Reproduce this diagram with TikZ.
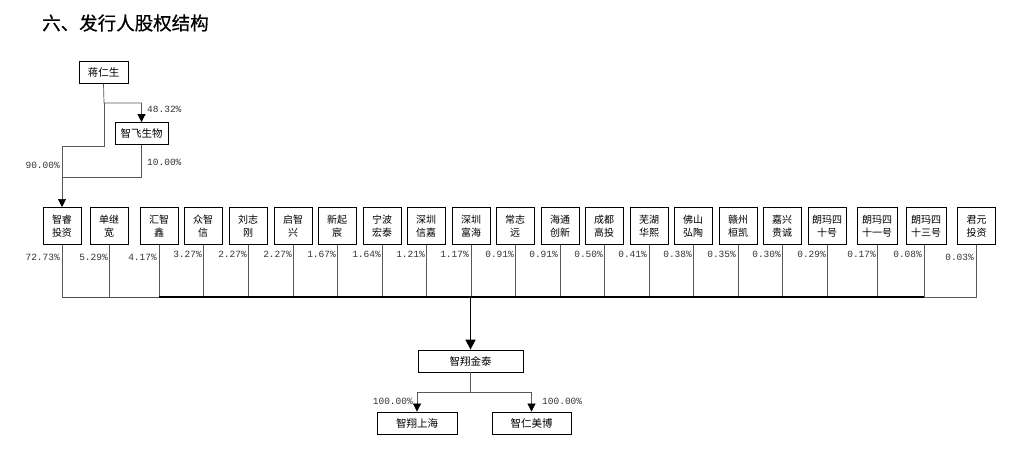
\documentclass[tikz,border=0pt]{standalone}
\usepackage{fontspec}
\usepackage{tikz}
\usetikzlibrary{arrows.meta}
\newfontfamily\cjk{Noto Sans CJK SC}
\newfontfamily\cjktitle[FakeBold=0.6]{Noto Sans CJK SC}
\newfontfamily\pctfont{Liberation Mono}

\tikzset{
  holder/.style={draw, line width=0.8pt, minimum width=38pt, minimum height=37pt, inner sep=0pt, align=center, font=\cjk\fontsize{10}{13}\selectfont},
  firm/.style={draw, line width=0.8pt, minimum height=22pt, inner sep=0pt, font=\cjk\fontsize{10.5}{12}\selectfont},
  pct/.style={anchor=east, inner sep=0pt, font=\pctfont\fontsize{9.5}{10}\selectfont, text=black!80},
  link/.style={draw=black!65, line width=0.7pt},
  arr/.style={-{Triangle[length=8pt,width=8pt,color=black]}},
}

\begin{document}
\begin{tikzpicture}[x=1pt, y=-1pt]
\useasboundingbox (0,0) rectangle (1029,452);

% Title
\node[anchor=west, inner sep=0pt, font=\cjktitle\fontsize{18.5}{19}\selectfont] (title) at (42,23) {六、发行人股权结构};

% Controlling shareholder
\node[firm, minimum width=49pt] (jrs) at (103.5,72.5) {蒋仁生};
\node[firm, minimum width=53pt] (zf) at (141.5,133.5) {智飞生物};

\coordinate (j1) at (104,103);
\coordinate (j2) at (104,146);
\coordinate (j3) at (62,177);

\draw[link,arr] (jrs.south) -- (j1) -| (zf.north);
\draw[link,arr] (j1) -- (j2) -| (62,207);
\draw[link] (zf.south) |- (j3);

\node[pct, anchor=west] (p0a) at (147,109) {48.32\%};
\node[pct, anchor=west] (p0b) at (147,162) {10.00\%};
\node[pct] (p0c) at (60,165) {90.00\%};

% Shareholders
\node[holder] (h1) at (62,226) {智睿\\投资};        \node[pct] (p1) at (60,257) {72.73\%};
\node[holder] (h2) at (109,226) {单继\\宽};        \node[pct] (p2) at (108,257) {5.29\%};
\node[holder] (h3) at (159,226) {汇智\\鑫};        \node[pct] (p3) at (157,257) {4.17\%};
\node[holder] (h4) at (203,226) {众智\\信};        \node[pct] (p4) at (202,254) {3.27\%};
\node[holder] (h5) at (248,226) {刘志\\刚};        \node[pct] (p5) at (247,254) {2.27\%};
\node[holder] (h6) at (293,226) {启智\\兴};        \node[pct] (p6) at (292,254) {2.27\%};
\node[holder] (h7) at (337,226) {新起\\宸};        \node[pct] (p7) at (336,254) {1.67\%};
\node[holder] (h8) at (382,226) {宁波\\宏泰};      \node[pct] (p8) at (381,254) {1.64\%};
\node[holder] (h9) at (426,226) {深圳\\信嘉};      \node[pct] (p9) at (425,254) {1.21\%};
\node[holder] (h10) at (471,226) {深圳\\富海};     \node[pct] (p10) at (469,254) {1.17\%};
\node[holder] (h11) at (515,226) {常志\\远};       \node[pct] (p11) at (514,254) {0.91\%};
\node[holder] (h12) at (560,226) {海通\\创新};     \node[pct] (p12) at (558,254) {0.91\%};
\node[holder] (h13) at (604,226) {成都\\高投};     \node[pct] (p13) at (603,254) {0.50\%};
\node[holder] (h14) at (649,226) {芜湖\\华熙};     \node[pct] (p14) at (647,254) {0.41\%};
\node[holder] (h15) at (693,226) {佛山\\弘陶};     \node[pct] (p15) at (692,254) {0.38\%};
\node[holder] (h16) at (738,226) {赣州\\桓凯};     \node[pct] (p16) at (736,254) {0.35\%};
\node[holder] (h17) at (782,226) {嘉兴\\贵诚};     \node[pct] (p17) at (781,254) {0.30\%};
\node[holder] (h18) at (827,226) {朗玛四\\十号};   \node[pct] (p18) at (826,254) {0.29\%};
\node[holder, minimum width=40pt] (h19) at (877,226) {朗玛四\\十一号}; \node[pct] (p19) at (876,254) {0.17\%};
\node[holder, minimum width=40pt] (h20) at (926,226) {朗玛四\\十三号}; \node[pct] (p20) at (922,254) {0.08\%};
\node[holder] (h21) at (976.5,226) {君元\\投资};   \node[pct] (p21) at (974,257) {0.03\%};

% Bus
\coordinate (busL) at (62,297);
\coordinate (busR) at (977,297);

\draw[link] (h1.south) -- (h1.south |- busL)
  (h2.south) -- (h2.south |- busL)
  (h3.south) -- (h3.south |- busL)
  (h4.south) -- (h4.south |- busL)
  (h5.south) -- (h5.south |- busL)
  (h6.south) -- (h6.south |- busL)
  (h7.south) -- (h7.south |- busL)
  (h8.south) -- (h8.south |- busL)
  (h9.south) -- (h9.south |- busL)
  (h10.south) -- (h10.south |- busL)
  (h11.south) -- (h11.south |- busL)
  (h12.south) -- (h12.south |- busL)
  (h13.south) -- (h13.south |- busL)
  (h14.south) -- (h14.south |- busL)
  (h15.south) -- (h15.south |- busL)
  (h16.south) -- (h16.south |- busL)
  (h17.south) -- (h17.south |- busL)
  (h18.south) -- (h18.south |- busL)
  (h19.south) -- (h19.south |- busL)
  ([xshift=-2pt]h20.south) -- ([xshift=-2pt]h20.south |- busL)
  (h21.south) -- (h21.south |- busL);
\draw[line width=0.7pt, black!70] (busL) -- (h3.south |- busL);
\draw[line width=1.3pt] (h3.south |- busL) -- ([xshift=-2pt]h20.south |- busL);
\draw[link] ([xshift=-2pt]h20.south |- busL) -- (busR);

% Issuer
\node[firm, minimum width=105pt] (jt) at (470.5,361) {智翔金泰};
\draw[line width=1.6pt, -{Triangle[length=10pt,width=10pt]}] (jt.north |- busL) -- (jt.north);

% Subsidiaries
\node[firm, minimum width=80pt] (sh) at (417,423) {智翔上海};
\node[firm, minimum width=79pt] (mb) at (531.5,423) {智仁美博};

\coordinate (split) at (470.5,392);
\draw[link] (jt.south) -- (split);
\draw[link,arr] (split) -| (sh.north);
\draw[link,arr] (split) -| (mb.north);

\node[pct] (p22) at (413,401) {100.00\%};
\node[pct, anchor=west] (p23) at (542,401) {100.00\%};

\end{tikzpicture}
\end{document}
